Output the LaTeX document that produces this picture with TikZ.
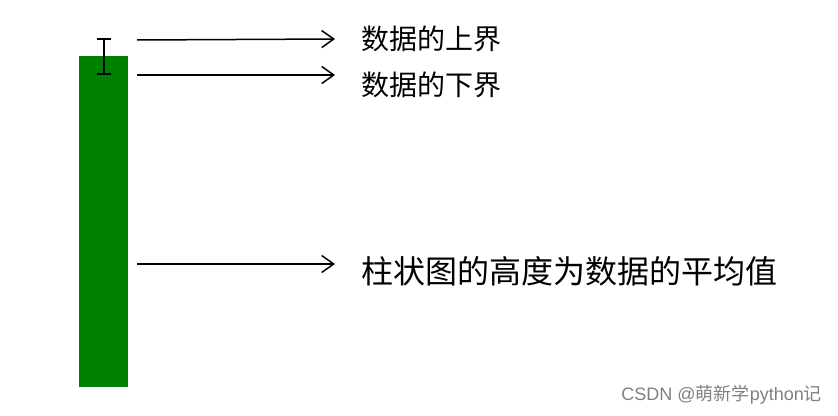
\documentclass[tikz,border=0pt]{standalone}
\usepackage{fontspec}
\setmainfont{Noto Sans CJK SC}
\newfontfamily\latinfont{Liberation Sans}
\usetikzlibrary{arrows.meta}
\definecolor{bargreen}{RGB}{0,128,0}
\tikzset{
  pointer/.style={line width=1.5pt, -{Straight Barb[length=12pt,width=17pt]}},
  note/.style={anchor=west, inner sep=0pt, outer xsep=26pt}
}
\begin{document}
\begin{tikzpicture}[x=1pt, y=-1pt]
  \useasboundingbox (0,0) rectangle (838,415);
  \fill [bargreen] (79,56) rectangle (128,387);
  \draw [line width=1.5pt] (104,39) -- (104,74);
  \draw [line width=1.5pt] (97,39) -- (111,39);
  \draw [line width=1.5pt] (97,74) -- (111,74);
  \coordinate (upperstart) at (137,40);
  \coordinate (lowerstart) at (137,75);
  \coordinate (meanstart) at (137,264);
  \node [note] (upper) at (335,39) {\fontsize{28}{30}\selectfont 数据的上界};
  \node [note] (lower) at (335,85) {\fontsize{28}{30}\selectfont 数据的下界};
  \node [note] (mean) at (335,271) {\fontsize{32}{34}\selectfont 柱状图的高度为数据的平均值};
  \draw [pointer] (upperstart) -- (upper.west);
  \draw [pointer] (lowerstart) -- (upper.west |- lowerstart);
  \draw [pointer] (meanstart) -- (mean.west |- meanstart);
  \node [anchor=east, inner sep=0pt, text=gray] (mark) at (822,395) {\fontsize{18}{20}\selectfont{\latinfont CSDN @}萌新学{\latinfont python}记};
\end{tikzpicture}
\end{document}
